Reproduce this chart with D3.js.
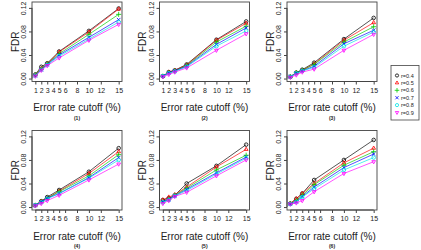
<!DOCTYPE html>
<html><head><meta charset="utf-8">
<script src="https://cdn.jsdelivr.net/npm/d3@7"></script>
<style>body{margin:0;background:#fff}svg{display:block}</style>
</head><body>
<svg id="c" width="421" height="250"></svg>
<script>
const xVals = [1, 2, 3, 5, 10, 15];
const xTicks = [1, 2, 3, 4, 5, 6, 8, 10, 12, 15];
const yTicks = [0.00, 0.04, 0.08, 0.12];
const seriesNames = ["r=0.4", "r=0.5", "r=0.6", "r=0.7", "r=0.8", "r=0.9"];
const panelLabels = ["(1)", "(2)", "(3)", "(4)", "(5)", "(6)"];

const panel1 = [
  [0.007, 0.020, 0.026, 0.046, 0.081, 0.119],
  [0.006, 0.017, 0.025, 0.045, 0.079, 0.118],
  [0.006, 0.016, 0.025, 0.042, 0.075, 0.109],
  [0.005, 0.015, 0.024, 0.040, 0.070, 0.100],
  [0.005, 0.015, 0.023, 0.038, 0.067, 0.096],
  [0.004, 0.014, 0.022, 0.035, 0.065, 0.092]
];
const panel2 = [
  [0.004, 0.011, 0.014, 0.024, 0.066, 0.097],
  [0.004, 0.011, 0.014, 0.023, 0.065, 0.094],
  [0.004, 0.010, 0.013, 0.022, 0.062, 0.089],
  [0.004, 0.010, 0.013, 0.021, 0.058, 0.086],
  [0.004, 0.009, 0.012, 0.020, 0.055, 0.081],
  [0.003, 0.007, 0.011, 0.018, 0.048, 0.076]
];
const panel3 = [
  [0.003, 0.010, 0.015, 0.027, 0.067, 0.103],
  [0.003, 0.010, 0.014, 0.025, 0.065, 0.095],
  [0.003, 0.010, 0.014, 0.024, 0.062, 0.088],
  [0.003, 0.009, 0.013, 0.021, 0.059, 0.082],
  [0.003, 0.009, 0.013, 0.019, 0.055, 0.079],
  [0.002, 0.006, 0.011, 0.016, 0.048, 0.075]
];
const panel4 = [
  [0.003, 0.010, 0.017, 0.029, 0.060, 0.100],
  [0.003, 0.010, 0.015, 0.027, 0.057, 0.094],
  [0.003, 0.009, 0.015, 0.026, 0.053, 0.089],
  [0.003, 0.009, 0.015, 0.023, 0.050, 0.084],
  [0.003, 0.008, 0.014, 0.023, 0.049, 0.080],
  [0.002, 0.006, 0.011, 0.020, 0.046, 0.073]
];
const panel5 = [
  [0.012, 0.015, 0.020, 0.040, 0.070, 0.106],
  [0.012, 0.017, 0.021, 0.034, 0.068, 0.098],
  [0.009, 0.013, 0.020, 0.032, 0.063, 0.088],
  [0.009, 0.013, 0.019, 0.030, 0.058, 0.085],
  [0.008, 0.012, 0.019, 0.028, 0.056, 0.083],
  [0.006, 0.011, 0.018, 0.025, 0.053, 0.080]
];
const panel6 = [
  [0.006, 0.014, 0.023, 0.046, 0.080, 0.114],
  [0.006, 0.014, 0.023, 0.040, 0.075, 0.100],
  [0.006, 0.011, 0.020, 0.038, 0.071, 0.094],
  [0.005, 0.009, 0.018, 0.034, 0.067, 0.090],
  [0.005, 0.009, 0.017, 0.031, 0.063, 0.084],
  [0.005, 0.007, 0.011, 0.026, 0.057, 0.077]
];
const panels = [panel1, panel2, panel3, panel4, panel5, panel6];

const colors = ["#000000", "#ff0000", "#00cd00", "#0000ff", "#00e5e5", "#ff00ff"];
const symbols = [d3.symbolCircle, d3.symbolTriangle2, d3.symbolPlus, d3.symbolTimes, d3.symbolCircle, d3.symbolTriangle2];
const symRot = [0, 0, 0, 0, 0, 180];

const svg = d3.select("#c");
const PW = 127.5, PH = 128.5;
const boxL = 32, boxR = 122, boxT = 2, boxB = 81.5;
const fontFam = "Liberation Sans, Arial, Helvetica, sans-serif";
const txt = "#222";

panels.forEach((data, pi) => {
  const col = pi % 3, row = Math.floor(pi / 3);
  const g = svg.append("g").attr("transform", `translate(${col * PW},${row * PH})`);
  const x = d3.scaleLinear().domain([1 - 14 * 0.04, 15 + 14 * 0.04]).range([boxL, boxR]);
  const y = d3.scaleLinear().domain([-0.005, 0.13]).range([boxB, boxT]);

  // series
  const line = d3.line().x((d, i) => x(xVals[i])).y(d => y(d));
  data.forEach((s, si) => {
    g.append("path").attr("d", line(s)).attr("fill", "none")
      .attr("stroke", colors[si]).attr("stroke-width", 0.9).attr("stroke-opacity", 0.75);
    const sym = d3.symbol().type(symbols[si]).size(10);
    g.selectAll(null).data(s).join("path")
      .attr("d", sym())
      .attr("transform", (d, i) => `translate(${x(xVals[i])},${y(d)}) rotate(${symRot[si]})`)
      .attr("fill", "none").attr("stroke", colors[si]).attr("stroke-width", 0.8);
  });

  // box
  g.append("rect").attr("x", boxL).attr("y", boxT).attr("width", boxR - boxL).attr("height", boxB - boxT)
    .attr("fill", "none").attr("stroke", "#444").attr("stroke-width", 0.9);

  // x axis
  const xa = g.append("g").attr("transform", `translate(0,${boxB})`)
    .call(d3.axisBottom(x).tickValues(xTicks).tickFormat(d3.format("d")).tickSize(3).tickSizeOuter(0));
  xa.select(".domain").attr("stroke", "#444").attr("d", `M${x(1)},0H${x(15)}`);
  xa.selectAll(".tick line").attr("stroke", "#444");
  xa.selectAll(".tick text").attr("font-size", 7).attr("font-family", fontFam).attr("fill", txt).attr("dy", "0.75em");

  // y axis
  const ya = g.append("g").attr("transform", `translate(${boxL},0)`)
    .call(d3.axisLeft(y).tickValues(yTicks).tickFormat(d3.format(".2f")).tickSize(3).tickSizeOuter(0));
  ya.select(".domain").attr("stroke", "#444").attr("d", `M0,${y(0)}V${y(0.12)}`);
  ya.selectAll(".tick line").attr("stroke", "#444");
  ya.selectAll(".tick text").attr("font-size", 7).attr("font-family", fontFam).attr("fill", txt)
    .attr("text-anchor", "middle").attr("x", 0).attr("dy", 0)
    .attr("transform", "translate(-6,0) rotate(-90)");

  g.append("text").attr("x", (boxL + boxR) / 2).attr("y", 111).attr("text-anchor", "middle")
    .attr("font-size", 10).attr("font-family", fontFam).attr("fill", txt).text("Error rate cutoff (%)");
  g.append("text").attr("x", (boxL + boxR) / 2).attr("y", 119.5).attr("text-anchor", "middle")
    .attr("font-size", 5).attr("font-weight", "bold").attr("font-family", fontFam).attr("fill", txt).text(panelLabels[pi]);
  g.append("text").attr("transform", `translate(18.5,${(boxT + boxB) / 2}) rotate(-90)`).attr("text-anchor", "middle")
    .attr("font-size", 10).attr("font-family", fontFam).attr("fill", txt).text("FDR");
});

// legend
const lg = svg.append("g");
lg.append("rect").attr("x", 391).attr("y", 65.5).attr("width", 28).attr("height", 54.5)
  .attr("fill", "#fff").attr("stroke", "#444").attr("stroke-width", 0.8);
seriesNames.forEach((n, i) => {
  const yy = 75.5 + i * 7.4;
  lg.append("path").attr("d", d3.symbol().type(symbols[i]).size(8)())
    .attr("transform", `translate(397,${yy}) rotate(${symRot[i]})`)
    .attr("fill", "none").attr("stroke", colors[i]).attr("stroke-width", 0.8);
  lg.append("text").attr("x", 401).attr("y", yy + 2).attr("font-size", 5.5).attr("font-family", fontFam)
    .attr("fill", txt).text(n);
});
</script>
</body></html>
